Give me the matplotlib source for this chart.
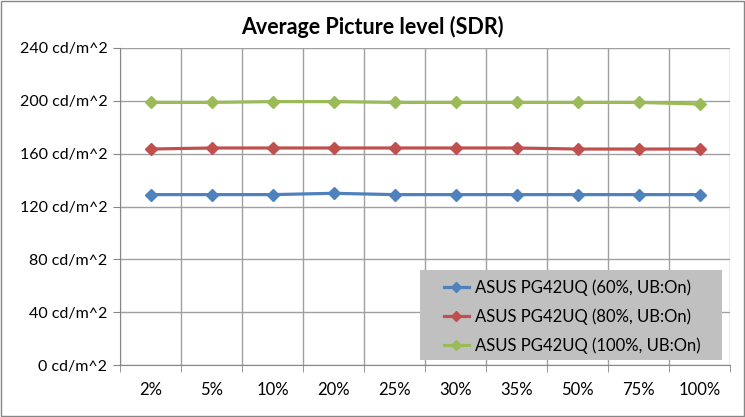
import matplotlib.pyplot as plt
import numpy as np

# Data
categories = ["2%", "5%", "10%", "20%", "25%", "30%", "35%", "50%", "75%", "100%"]
apl_60 = [129, 129, 129, 130, 129, 129, 129, 129, 129, 129]
apl_80 = [163.5, 164.3, 164.3, 164.3, 164.3, 164.3, 164.3, 163.5, 163.5, 163.5]
apl_100 = [198.8, 198.8, 199.4, 199.4, 198.8, 198.8, 198.8, 198.8, 198.8, 197.6]
series_labels = ["ASUS PG42UQ (60%, UB:On)",
                 "ASUS PG42UQ (80%, UB:On)",
                 "ASUS PG42UQ (100%, UB:On)"]
y_ticks = [0, 40, 80, 120, 160, 200, 240]

colors = ["#4F81BD", "#C0504D", "#9BBB59"]
font = ["Lato", "DejaVu Sans"]
plt.rcParams['font.family'] = font

fig = plt.figure(figsize=(7.45, 4.17), dpi=100)
ax = fig.add_axes([120 / 745, 1 - 365 / 417, 610 / 745, 317 / 417])

x = np.arange(len(categories))
for vals, col, lab in zip([apl_60, apl_80, apl_100], colors, series_labels):
    ax.plot(x, vals, color=col, lw=2.3, marker="D", markersize=6,
            label=lab, zorder=3)

ax.set_xlim(-0.5, len(categories) - 0.5)
ax.set_ylim(0, 240)
ax.set_yticks(y_ticks)
ax.set_yticklabels([f"{v} cd/m^2" for v in y_ticks])
ax.set_xticks(x)
ax.set_xticklabels(categories)
ax.tick_params(axis="x", length=0, labelsize=12, pad=12)
ax.tick_params(axis="y", length=5, color="#868686", labelsize=11.5, pad=4)

# vertical gridlines between categories, horizontal at y ticks
ax.set_xticks(np.arange(-0.5, len(categories)), minor=True)
ax.tick_params(axis="x", which="minor", length=5, color="#868686")
ax.grid(True, which="minor", axis="x", color="#a0a0a0", lw=1)
ax.grid(True, which="major", axis="y", color="#a0a0a0", lw=1)
ax.set_axisbelow(True)

for side in ["top", "right"]:
    ax.spines[side].set_visible(False)
for side in ["left", "bottom"]:
    ax.spines[side].set_color("#868686")

fig.text(0.5, 1 - 27 / 417, "Average Picture level (SDR)", ha="center",
         va="center", fontsize=15.5, fontweight="bold")

# legend: grey box drawn separately, entries on top
ax.add_patch(plt.Rectangle((300 / 610, 5 / 317), 302 / 610, 90 / 317,
                           transform=ax.transAxes, facecolor="#c0c0c0",
                           edgecolor="none", zorder=4))
leg = ax.legend(loc="upper left", bbox_to_anchor=(324 / 610, 86 / 317),
                fontsize=12, frameon=False, borderpad=0, borderaxespad=0,
                labelspacing=0.75, handlelength=1.5, handletextpad=0.35,
                markerscale=0.8)
leg.set_zorder(5)

# outer chart border
fig.patches.append(plt.Rectangle((0.001, 0.002), 0.997, 0.996,
                                 transform=fig.transFigure, fill=False,
                                 edgecolor="#868686", lw=1))

fig.savefig("out.png", dpi=100)
